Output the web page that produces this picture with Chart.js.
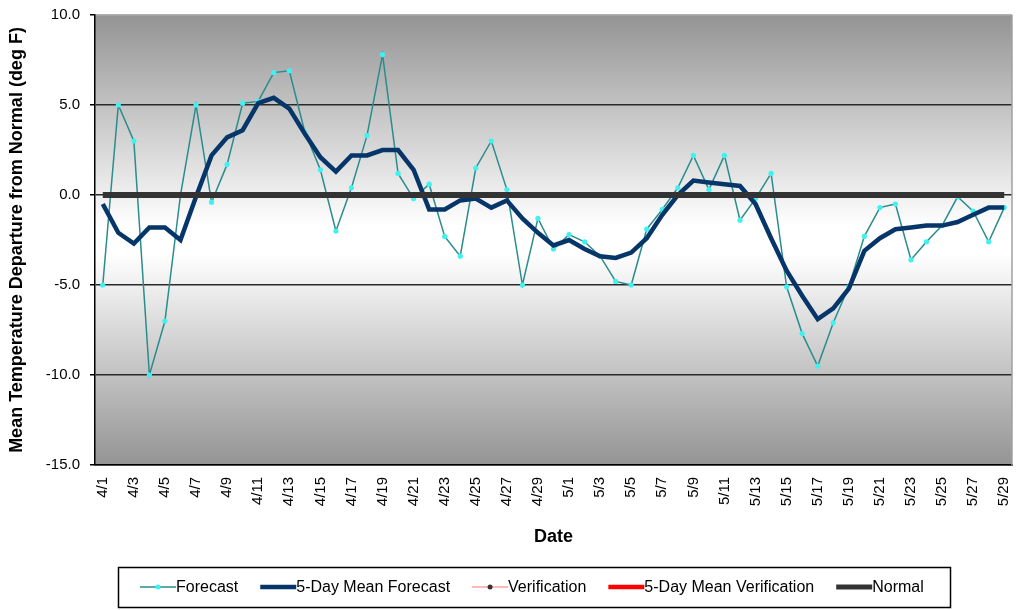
<!DOCTYPE html>
<html>
<head>
<meta charset="utf-8">
<script src="https://cdn.jsdelivr.net/npm/chart.js@4/dist/chart.umd.min.js"></script>
<style>
html,body{margin:0;padding:0;background:#fff;}
#c{display:block;}
</style>
</head>
<body>
<canvas id="c" width="1016" height="610"></canvas>
<script>
const dates = ['4/1','4/2','4/3','4/4','4/5','4/6','4/7','4/8','4/9','4/10',
  '4/11','4/12','4/13','4/14','4/15','4/16','4/17','4/18','4/19','4/20',
  '4/21','4/22','4/23','4/24','4/25','4/26','4/27','4/28','4/29','4/30',
  '5/1','5/2','5/3','5/4','5/5','5/6','5/7','5/8','5/9','5/10',
  '5/11','5/12','5/13','5/14','5/15','5/16','5/17','5/18','5/19','5/20',
  '5/21','5/22','5/23','5/24','5/25','5/26','5/27','5/28','5/29'];

const forecast = [-5.0, 5.0, 3.0, -10.0, -7.0, 0.0, 5.0, -0.4, 1.7, 5.1,
  5.2, 6.8, 6.9, 3.5, 1.4, -2.0, 0.4, 3.3, 7.8, 1.2,
  -0.2, 0.6, -2.3, -3.4, 1.5, 3.0, 0.3, -5.0, -1.3, -3.0,
  -2.2, -2.6, -3.4, -4.8, -5.0, -1.9, -0.8, 0.4, 2.2, 0.3,
  2.2, -1.4, -0.2, 1.2, -5.1, -7.7, -9.5, -7.1, -5.1, -2.3,
  -0.7, -0.5, -3.6, -2.6, -1.7, -0.1, -0.9, -2.6, -0.7];

const meanForecast = [-0.5, -2.1, -2.7, -1.8, -1.8, -2.5, -0.1, 2.2, 3.2, 3.6,
  5.1, 5.4, 4.8, 3.4, 2.1, 1.3, 2.2, 2.2, 2.5, 2.5,
  1.4, -0.8, -0.8, -0.3, -0.2, -0.7, -0.3, -1.3, -2.1, -2.8,
  -2.5, -3.0, -3.4, -3.5, -3.2, -2.4, -1.1, 0.0, 0.8, 0.7,
  0.6, 0.5, -0.5, -2.4, -4.2, -5.6, -6.9, -6.3, -5.2, -3.1,
  -2.4, -1.9, -1.8, -1.7, -1.7, -1.5, -1.1, -0.7, -0.7];

const verification = [];
const meanVerification = [];

const normal = [0,0,0,0,0,0,0,0,0,0, 0,0,0,0,0,0,0,0,0,0,
  0,0,0,0,0,0,0,0,0,0, 0,0,0,0,0,0,0,0,0,0,
  0,0,0,0,0,0,0,0,0,0, 0,0,0,0,0,0,0,0,0];

const yTicks = [-15, -10, -5, 0, 5, 10];

const FONT = '"Liberation Sans", Arial, sans-serif';

const deco = {
  id: 'deco',
  beforeDraw(chart) {
    const {ctx, chartArea: a} = chart;
    ctx.save();
    ctx.fillStyle = '#fff';
    ctx.fillRect(0, 0, chart.width, chart.height);
    const g = ctx.createLinearGradient(0, a.top, 0, a.bottom);
    g.addColorStop(0, '#949494');
    g.addColorStop(0.47, '#ffffff');
    g.addColorStop(0.53, '#ffffff');
    g.addColorStop(1, '#949494');
    ctx.fillStyle = g;
    ctx.fillRect(a.left, a.top, a.right - a.left, a.bottom - a.top);
    ctx.restore();
  },
  afterDraw(chart) {
    const {ctx, chartArea: a} = chart;
    ctx.save();
    ctx.strokeStyle = '#a0a0a0';
    ctx.lineWidth = 1.5;
    ctx.beginPath();
    ctx.moveTo(a.right, a.top);
    ctx.lineTo(a.right, a.bottom);
    ctx.stroke();
    ctx.strokeStyle = '#000';
    ctx.lineWidth = 1.5;
    ctx.strokeRect(118.5, 567.5, 832, 40);
    ctx.font = '16px ' + FONT;
    ctx.textBaseline = 'middle';
    ctx.textAlign = 'left';
    let x = 140;
    const y = 587;
    chart.data.datasets.forEach(ds => {
      const lw = Math.min(ds.borderWidth, 5);
      ctx.strokeStyle = ds.borderColor;
      ctx.lineWidth = lw;
      ctx.beginPath();
      ctx.moveTo(x, y);
      ctx.lineTo(x + 36, y);
      ctx.stroke();
      if (ds.legendMarker) {
        ctx.fillStyle = ds.legendMarker;
        ctx.beginPath();
        ctx.arc(x + 18, y, 2.5, 0, Math.PI * 2);
        ctx.fill();
      }
      ctx.fillStyle = '#000';
      ctx.fillText(ds.label, x + 36, y + 1);
      x += 36 + ctx.measureText(ds.label).width + 22;
    });
    ctx.restore();
  }
};

new Chart(document.getElementById('c'), {
  type: 'line',
  data: {
    labels: dates,
    datasets: [
      {
        label: 'Forecast',
        data: forecast,
        borderColor: '#2a8c8c',
        borderWidth: 1.5,
        pointStyle: 'circle',
        pointRadius: 2.6,
        pointBackgroundColor: '#3ef2f2',
        pointBorderColor: '#3ef2f2',
        pointBorderWidth: 0,
        legendMarker: '#3ef2f2',
        tension: 0,
        order: 4
      },
      {
        label: '5-Day Mean Forecast',
        data: meanForecast,
        borderColor: '#06356a',
        borderWidth: 4.5,
        pointRadius: 0,
        tension: 0,
        order: 3
      },
      {
        label: 'Verification',
        data: verification,
        borderColor: '#ff9f9f',
        borderWidth: 1.5,
        pointRadius: 0,
        legendMarker: '#333333',
        order: 2
      },
      {
        label: '5-Day Mean Verification',
        data: meanVerification,
        borderColor: '#ff0000',
        borderWidth: 4.5,
        pointRadius: 0,
        order: 1
      },
      {
        label: 'Normal',
        data: normal,
        borderColor: '#333333',
        borderWidth: 6,
        pointRadius: 0,
        tension: 0,
        order: 0
      }
    ]
  },
  options: {
    responsive: false,
    animation: false,
    devicePixelRatio: 1,
    layout: { padding: { left: 0, right: 3, top: 15, bottom: 50 } },
    plugins: {
      legend: { display: false },
      tooltip: { enabled: false }
    },
    scales: {
      x: {
        type: 'category',
        offset: true,
        afterFit(s) { s.height = 95; s.paddingLeft = 0; s.paddingRight = 0; },
        grid: { display: true, drawOnChartArea: false, drawTicks: false },
        border: { display: true, color: '#000', width: 1.5 },
        ticks: {
          autoSkip: false,
          minRotation: 90,
          maxRotation: 90,
          padding: 12,
          color: '#000',
          font: { family: FONT, size: 15 },
          callback: (v, i) => (i % 2 === 0 ? dates[i] : '')
        },
        title: {
          display: true,
          text: 'Date',
          color: '#000',
          font: { family: FONT, size: 18, weight: 'bold' },
          padding: { top: 0, bottom: 12 }
        }
      },
      y: {
        min: -15,
        max: 10,
        afterFit(s) { s.width = 95; s.paddingTop = 0; s.paddingBottom = 0; },
        afterBuildTicks(s) { s.ticks = yTicks.map(v => ({ value: v })); },
        grid: {
          color: ctx => (ctx.tick && ctx.tick.value === 10 ? '#b0b0b0' : '#2a2a2a'),
          lineWidth: 1.5,
          drawTicks: true,
          tickLength: 5,
          tickColor: '#000'
        },
        border: { display: true, color: '#000', width: 1.5 },
        ticks: {
          padding: 10,
          color: '#000',
          font: { family: FONT, size: 15 },
          callback: v => Number(v).toFixed(1)
        },
        title: {
          display: true,
          text: 'Mean Temperature Departure from Normal (deg F)',
          color: '#000',
          font: { family: FONT, size: 18, weight: 'bold' },
          padding: { top: 6, bottom: 0 }
        }
      }
    }
  },
  plugins: [deco]
});
</script>
</body>
</html>
